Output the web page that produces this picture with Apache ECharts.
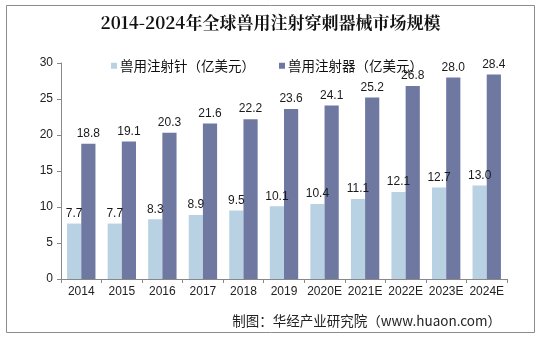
<!DOCTYPE html>
<html><head><meta charset="utf-8">
<script src="https://cdn.jsdelivr.net/npm/echarts@6/dist/echarts.min.js"></script>
<style>html,body{margin:0;padding:0;background:#fff}#c{width:541px;height:340px}</style>
</head><body><div id="c"></div>
<script>
var categories = ['2014','2015','2016','2017','2018','2019','2020E','2021E','2022E','2023E','2024E'];
var needles = [7.7,7.7,8.3,8.9,9.5,10.1,10.4,11.1,12.1,12.7,13.0];
var syringes = [18.8,19.1,20.3,21.6,22.2,23.6,24.1,25.2,26.8,28.0,28.4];
var seriesNames = ['兽用注射针（亿美元）','兽用注射器（亿美元）'];
var titleText = '2014-2024年全球兽用注射穿刺器械市场规模';
var sourceText = '制图：华经产业研究院（www.huaon.com）';

var chart = echarts.init(document.getElementById('c'), null, {renderer:'canvas'});
var lbl = {show:true, position:'top', color:'#1a1a1a', fontSize:12, fontFamily:'Arial, Liberation Sans', distance:4,
  formatter:function(p){return p.value.toFixed(1);}};
chart.setOption({
  animation:false,
  graphic:[
    {type:'rect', shape:{x:6.5,y:5.5,width:528,height:327}, style:{fill:'none', stroke:'#8c8c8c', lineWidth:1}},
    {type:'text', right:40, top:314, style:{text:sourceText, fill:'#222', font:'13.5px "Noto Sans CJK SC", sans-serif'}}
  ],
  title:{text:titleText, left:'center', top:9, textStyle:{fontFamily:'"Noto Serif CJK SC", "Noto Sans CJK SC", serif', fontWeight:'bold', fontSize:17, color:'#111'}},
  legend:{top:54, left:106, itemWidth:6, itemHeight:6, itemGap:24, icon:'rect',
    textStyle:{fontSize:13.5, color:'#111', fontFamily:'"Noto Sans CJK SC", sans-serif', padding:[0,0,0,-2]},
    data:seriesNames},
  grid:{left:61, right:34, top:63, bottom:61},
  xAxis:{type:'category', data:categories,
    axisLine:{lineStyle:{color:'#888'}}, axisTick:{show:true, lineStyle:{color:'#888'}, length:4},
    axisLabel:{interval:0, color:'#222', fontSize:12, fontFamily:'Arial, Liberation Sans', margin:7}},
  yAxis:{type:'value', min:0, max:30, interval:5,
    axisLine:{show:true, lineStyle:{color:'#888'}}, axisTick:{show:true, length:4, lineStyle:{color:'#888'}},
    splitLine:{show:false},
    axisLabel:{color:'#222', fontSize:12, fontFamily:'Arial, Liberation Sans', margin:8}},
  series:[
    {name:seriesNames[0], type:'bar', data:needles, barGap:'0%', barCategoryGap:'30%',
      itemStyle:{color:'#b8d1e3'}, label:lbl},
    {name:seriesNames[1], type:'bar', data:syringes, barGap:'0%', barCategoryGap:'30%',
      itemStyle:{color:'#6e78a1'}, label:lbl}
  ]
});
</script></body></html>
